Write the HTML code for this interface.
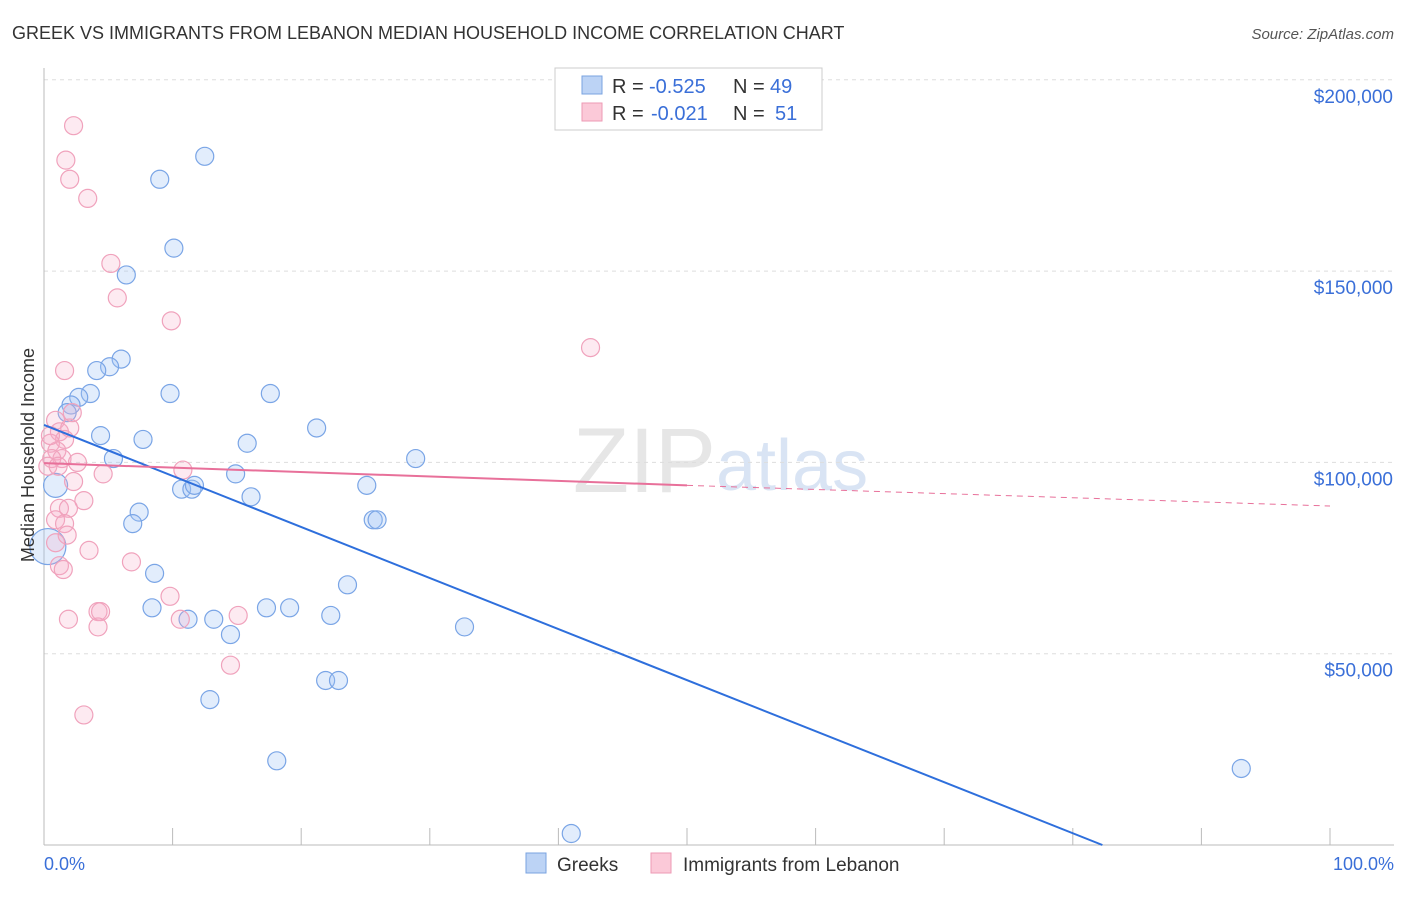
<!DOCTYPE html>
<html><head><meta charset="utf-8"><style>
body{margin:0;background:#fff;font-family:"Liberation Sans",sans-serif}
svg text{font-family:"Liberation Sans",sans-serif;white-space:pre}
</style></head><body>
<svg id="c" width="1406" height="892">
<text x="12" y="39" font-size="18" fill="#333">GREEK VS IMMIGRANTS FROM LEBANON MEDIAN HOUSEHOLD INCOME CORRELATION CHART</text>
<text x="1394" y="39" font-size="15" fill="#555" font-style="italic" text-anchor="end">Source: ZipAtlas.com</text>
<text x="716" y="492" font-size="92" fill="#e6e6e6" text-anchor="end" font-family="Liberation Serif">ZIP</text>
<text x="716" y="490" font-size="72" fill="#d9e4f4">atlas</text>
<g id="grid"></g><g id="axes"></g><g id="pts"></g><g id="lines"></g>
<text x="34" y="455" font-size="18" fill="#333" text-anchor="middle" transform="rotate(-90 34 455)">Median Household Income</text>
<text x="44" y="870" font-size="18" fill="#3a6fd8">0.0%</text>
<text x="1394" y="870" font-size="18" fill="#3a6fd8" text-anchor="end">100.0%</text>
<g>
<rect x="555" y="68" width="267" height="62" fill="#fff" stroke="#ccc"/>
<rect x="582" y="76" width="20" height="18" fill="#bcd3f5" stroke="#7aa3e0"/>
<rect x="582" y="103" width="20" height="18" fill="#fbc9d8" stroke="#ee9ab4"/>
<text x="612" y="93" font-size="20" fill="#333">R = </text><text x="649" y="93" font-size="20" fill="#3a6fd8">-0.525</text>
<text x="733" y="93" font-size="20" fill="#333">N = </text><text x="770" y="93" font-size="20" fill="#3a6fd8">49</text>
<text x="612" y="120" font-size="20" fill="#333">R = </text><text x="651" y="120" font-size="20" fill="#3a6fd8">-0.021</text>
<text x="733" y="120" font-size="20" fill="#333">N = </text><text x="775" y="120" font-size="20" fill="#3a6fd8">51</text>
</g>
<g>
<rect x="526" y="853" width="20" height="20" fill="#bcd3f5" stroke="#7aa3e0"/>
<text x="557" y="871" font-size="19" fill="#333">Greeks</text>
<rect x="651" y="853" width="20" height="20" fill="#fbc9d8" stroke="#ee9ab4"/>
<text x="683" y="871" font-size="19" fill="#333">Immigrants from Lebanon</text>
</g>
</svg>
<script>
const yTicks=[50000,100000,150000,200000];
const yTickLabels=["$50,000","$100,000","$150,000","$200,000"];
const blueX=[12.5,9.0,10.1,6.4,6.0,5.1,4.1,3.6,2.7,2.1,1.8,9.8,17.6,21.2,4.4,7.7,15.8,5.4,28.9,14.9,10.7,11.5,11.7,16.1,25.1,7.4,25.6,25.9,6.9,8.6,23.6,8.4,11.2,13.2,14.5,17.3,19.1,22.3,32.7,21.9,22.9,12.9,18.1,93.1,41.0,0.9,0.3];
const blueY=[180,174,156,149,127,125,124,118,117,115,113,118,118,109,107,106,105,101,101,97,93,93,94,91,94,87,85,85,84,71,68,62,59,59,55,62,62,60,57,43,43,38,22,20,3,94,78];
const pinkX=[2.3,1.7,2.0,3.4,5.2,5.7,9.9,42.5,1.6,0.9,1.2,2.0,1.6,0.5,1.0,1.4,0.6,2.6,0.3,1.1,10.8,4.6,2.3,3.1,1.2,1.9,0.9,1.6,1.8,3.5,6.8,1.2,1.5,9.8,4.2,4.4,15.1,1.9,4.2,10.6,14.5,3.1,0.9,0.5,2.2];
const pinkY=[188,179,174,169,152,143,137,130,124,111,108,109,106,105,103,101,101,100,99,99,98,97,95,90,88,88,85,84,81,77,74,73,72,65,61,61,60,59,57,59,47,34,79,107,113];
const blueBig=[45,46];
const xS=p=>44+p*12.86, yS=v=>845-v/50000*191.3;
const NS="http://www.w3.org/2000/svg";
function mk(t,a,parent){const e=document.createElementNS(NS,t);for(const k in a)e.setAttribute(k,a[k]);document.getElementById(parent).appendChild(e);return e;}
yTicks.forEach((v,i)=>{
 const g=mk('line',{x1:44,x2:1394,y1:yS(v),y2:yS(v),stroke:'#ddd','stroke-dasharray':'4 4'},'grid');
 
 
 const t=mk('text',{x:1393,y:yS(v)+23,'font-size':19,fill:'#3a6fd8','text-anchor':'end'},'grid');
 t.textContent=yTickLabels[i];
 
 
});
const ax=mk('line',{x1:44,x2:44,y1:68,y2:845,stroke:'#bbb'},'axes');


const bx=mk('line',{x1:44,x2:1394,y1:845,y2:845,stroke:'#bbb'},'axes');


for(let i=1;i<=10;i++){const t=mk('line',{x1:xS(i*10),x2:xS(i*10),y1:828,y2:845,stroke:'#bbb'},'axes');
 
 }
blueX.forEach((x,i)=>{const c=mk('circle',{cx:xS(x),cy:yS(blueY[i]*1000),r:blueBig.includes(i)?(i==46?18:12):9,fill:'rgba(160,195,245,0.3)',stroke:'#7aa5e6','stroke-width':1.2},'pts');
 
 });
pinkX.forEach((x,i)=>{const c=mk('circle',{cx:xS(x),cy:yS(pinkY[i]*1000),r:9,fill:'rgba(248,170,200,0.25)',stroke:'#f0a2bc','stroke-width':1.2},'pts');
 
 });
const bl=mk('line',{x1:xS(0),y1:yS(109800),x2:xS(82.3),y2:yS(0),stroke:'#2e6fdc','stroke-width':2},'lines');


const pl=mk('line',{x1:xS(0),y1:yS(99800),x2:xS(50),y2:yS(94000),stroke:'#e8709a','stroke-width':2},'lines');


const pd=mk('line',{x1:xS(50),y1:yS(94000),x2:xS(100),y2:yS(88600),stroke:'#e8709a','stroke-width':1,'stroke-dasharray':'6 5'},'lines');


</script>
</body></html>
